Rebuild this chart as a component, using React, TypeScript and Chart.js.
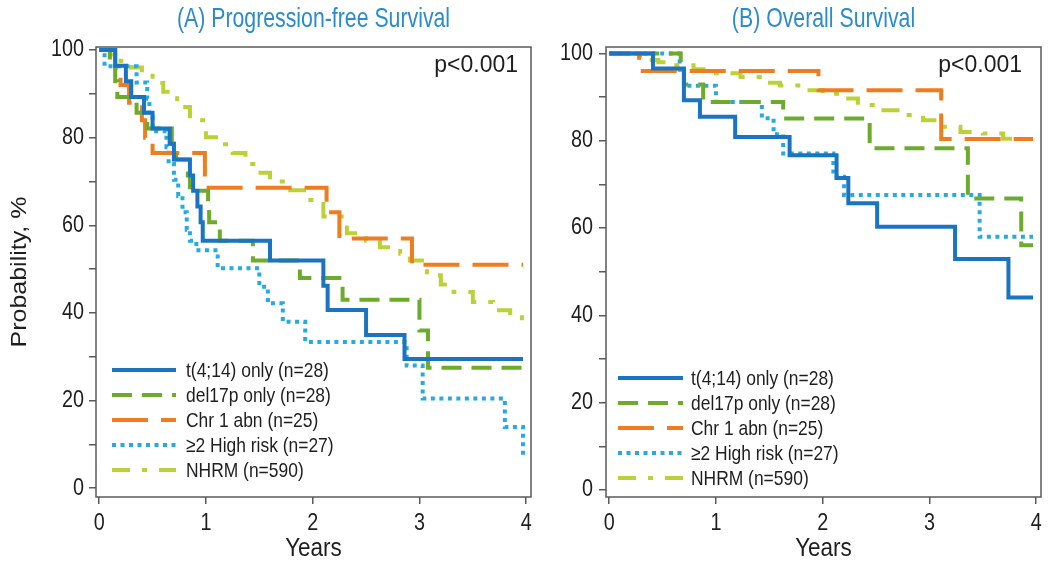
import React, { useEffect, useRef } from 'react';
import { Chart, registerables } from 'chart.js';

Chart.register(...registerables);

type Pt = [number, number];

const X_TICKS = [0, 1, 2, 3, 4];
const Y_TICKS = [0, 10, 20, 30, 40, 50, 60, 70, 80, 90, 100];
const Y_LABELED = [0, 20, 40, 60, 80, 100];
const LABELS = ['t(4;14) only (n=28)', 'del17p only (n=28)', 'Chr 1 abn (n=25)', '≥2 High risk (n=27)', 'NHRM (n=590)'];
const COLORS = ['#1a74c2', '#6dab2c', '#ef7d1f', '#25aae1', '#bcd135'];
const DASHES: number[][] = [[], [20, 10], [36, 13], [4, 4.5], [18, 12, 5, 12]];

// (A) Progression-free survival: [years, %]
const PFS_T414: Pt[] = [[0, 100], [0.15, 96.4], [0.25, 92.9], [0.3, 89.3], [0.42, 85.7], [0.5, 82.1], [0.66, 78.6], [0.7, 75], [0.85, 71.4], [0.88, 67.9], [0.92, 64.3], [0.95, 60.7], [0.97, 56.5], [1.6, 52], [2.1, 46.2], [2.14, 40.7], [2.5, 35], [2.86, 29.5], [3.97, 29.5]];
const PFS_DEL17P: Pt[] = [[0, 100], [0.1, 96.4], [0.15, 92.9], [0.17, 89.3], [0.35, 85.7], [0.45, 82.1], [0.68, 78.6], [0.72, 75], [0.83, 71.4], [0.85, 67.9], [1.02, 64.3], [1.03, 60.7], [1.13, 56.5], [1.44, 52], [1.88, 48], [2.28, 43], [3.0, 36], [3.08, 27.5], [3.97, 27.5]];
const PFS_CHR1: Pt[] = [[0, 100], [0.15, 96], [0.2, 92], [0.28, 88], [0.4, 84], [0.43, 80], [0.5, 76.5], [0.99, 68.6], [2.13, 63], [2.25, 57], [2.93, 51], [3.97, 51]];
const PFS_HR2: Pt[] = [[0, 100], [0.05, 96.3], [0.35, 92.6], [0.45, 88.9], [0.47, 85.2], [0.5, 81.5], [0.63, 77.8], [0.65, 74], [0.7, 70.4], [0.74, 66.7], [0.78, 63], [0.82, 59], [0.85, 56.5], [0.91, 54.3], [1.11, 50.2], [1.5, 46], [1.58, 42.2], [1.72, 38], [1.93, 33.4], [2.88, 28], [3.03, 20.5], [3.8, 14], [3.97, 6.8]];
const PFS_NHRM: Pt[] = [[0, 100], [0.1, 99], [0.2, 97.5], [0.3, 96], [0.4, 94.7], [0.5, 92.5], [0.6, 90.5], [0.73, 87], [0.85, 84], [1.0, 80.1], [1.12, 78.5], [1.25, 76.5], [1.37, 74], [1.48, 72], [1.6, 70], [1.79, 68], [1.94, 65.8], [2.1, 62], [2.32, 58.2], [2.5, 56.5], [2.63, 55], [2.82, 53.5], [2.91, 52], [3.07, 48.6], [3.2, 46.5], [3.32, 44.8], [3.5, 42.5], [3.69, 40.6], [3.85, 39.5], [3.96, 38]];

// (B) Overall survival: [years, %]
const OS_T414: Pt[] = [[0, 100], [0.41, 96.6], [0.7, 89.3], [0.85, 85.5], [1.18, 80.9], [1.69, 76.7], [2.13, 71.5], [2.24, 65.7], [2.51, 60.3], [3.24, 52.9], [3.74, 44.1], [3.97, 44.1]];
const OS_DEL17P: Pt[] = [[0, 100], [0.67, 96.4], [0.7, 92.9], [0.88, 88.9], [1.63, 85.1], [2.44, 78.3], [3.36, 66.8], [3.86, 56.1], [3.97, 56.1]];
const OS_CHR1: Pt[] = [[0, 100], [0.28, 96], [1.96, 91.6], [3.11, 80.4], [3.97, 80.4]];
const OS_HR2: Pt[] = [[0, 100], [0.66, 96.3], [0.7, 92.6], [1.0, 88.9], [1.43, 85.2], [1.54, 81.5], [1.63, 77.1], [2.1, 71.8], [2.2, 67.6], [3.47, 58], [3.97, 58]];
const OS_NHRM: Pt[] = [[0, 100], [0.2, 99.5], [0.35, 98.5], [0.46, 98], [0.6, 97.3], [0.79, 96.4], [1.0, 95.5], [1.23, 94.6], [1.41, 93.3], [1.6, 92.7], [1.82, 91.6], [2.0, 90.8], [2.19, 89.7], [2.33, 88.2], [2.55, 87], [2.75, 85.9], [2.94, 84.7], [3.1, 83.2], [3.29, 82], [3.5, 81.7], [3.69, 80.5], [3.78, 80.2]];

const TITLE_COLOR = '#2b8bcb';
const TEXT_COLOR = '#1e1e1e';
const AXIS_COLOR = '#5a5a5a';
const FONT = '"Liberation Sans", Arial, sans-serif';

interface PanelProps {
  left: number;
  width: number;
  yWidth: number;
  rightPad: number;
  yMin: number;
  yMax: number;
  title: string;
  series: Pt[][];
  yTitle: boolean;
  yLabelRight: number;
  legendLine: [number, number];
  legendTextX: number;
  legendY0: number;
  pX: number;
}

function txt(ctx: CanvasRenderingContext2D, s: string, x: number, y: number, size: number, sx: number, align: CanvasTextAlign, color: string) {
  ctx.save();
  ctx.translate(x, y);
  ctx.scale(sx, 1);
  ctx.font = `${size}px ${FONT}`;
  ctx.textAlign = align;
  ctx.textBaseline = 'middle';
  ctx.fillStyle = color;
  ctx.fillText(s, 0, 0);
  ctx.restore();
}

function Panel(p: PanelProps) {
  const ref = useRef<HTMLCanvasElement | null>(null);
  useEffect(() => {
    if (!ref.current) return;
    const overlay = {
      id: 'overlay',
      afterDraw(chart: any) {
        const { ctx, chartArea: ca, scales } = chart;
        ctx.save();
        // frame
        ctx.strokeStyle = AXIS_COLOR;
        ctx.lineWidth = 1.5;
        ctx.setLineDash([]);
        ctx.strokeRect(ca.left, ca.top, ca.right - ca.left, ca.bottom - ca.top);
        // title
        txt(ctx, p.title, (ca.left + ca.right) / 2, 19, 28, 0.76, 'center', TITLE_COLOR);
        // tick labels
        X_TICKS.forEach((v) => txt(ctx, String(v), scales.x.getPixelForValue(v), 524, 23, 0.86, 'center', TEXT_COLOR));
        Y_LABELED.forEach((v) => txt(ctx, String(v), p.yLabelRight, scales.y.getPixelForValue(v), 23, 0.86, 'right', TEXT_COLOR));
        // axis titles
        txt(ctx, 'Years', (ca.left + ca.right) / 2, 549, 25, 0.9, 'center', TEXT_COLOR);
        if (p.yTitle) {
          ctx.save();
          ctx.translate(20, (ca.top + ca.bottom) / 2);
          ctx.scale(0.85, 1);
          ctx.rotate(-Math.PI / 2);
          ctx.font = `25px ${FONT}`;
          ctx.textAlign = 'center';
          ctx.textBaseline = 'middle';
          ctx.fillStyle = TEXT_COLOR;
          ctx.fillText('Probability, %', 0, 0);
          ctx.restore();
        }
        // p value
        txt(ctx, 'p<0.001', p.pX, 66, 23, 1, 'right', TEXT_COLOR);
        // legend
        LABELS.forEach((lab, i) => {
          const y = p.legendY0 + i * 25;
          ctx.strokeStyle = COLORS[i];
          ctx.lineWidth = 4;
          ctx.lineCap = 'butt';
          ctx.setLineDash(DASHES[i]);
          ctx.beginPath();
          ctx.moveTo(p.legendLine[0], y);
          ctx.lineTo(p.legendLine[1], y);
          ctx.stroke();
          ctx.setLineDash([]);
          txt(ctx, lab, p.legendTextX, y + 1, 21, 0.83, 'left', TEXT_COLOR);
        });
        ctx.restore();
      },
    };
    const chart = new Chart(ref.current, {
      type: 'line',
      data: {
        datasets: p.series.map((s, i) => ({
          label: LABELS[i],
          data: s.map(([x, y]) => ({ x, y })),
          borderColor: COLORS[i],
          borderWidth: 4,
          borderDash: DASHES[i],
          borderCapStyle: 'butt',
          borderJoinStyle: 'miter',
          stepped: 'before',
          pointRadius: 0,
          fill: false,
        })),
      },
      options: {
        responsive: false,
        animation: false,
        layout: { padding: { left: 0, right: p.rightPad, top: 47, bottom: 0 } },
        plugins: { legend: { display: false }, tooltip: { enabled: false }, title: { display: false } },
        scales: {
          x: {
            type: 'linear',
            min: -0.03,
            max: 4.045,
            afterBuildTicks: (s: any) => { s.ticks = X_TICKS.map((v) => ({ value: v })); },
            afterFit: (s: any) => { s.height = 70; },
            grid: { drawOnChartArea: false, drawTicks: true, tickLength: 7, color: AXIS_COLOR, lineWidth: 1.5 },
            border: { display: false },
            ticks: { display: false },
            title: { display: false },
          },
          y: {
            type: 'linear',
            min: p.yMin,
            max: p.yMax,
            afterBuildTicks: (s: any) => { s.ticks = Y_TICKS.map((v) => ({ value: v })); },
            afterFit: (s: any) => { s.width = p.yWidth; },
            grid: { drawOnChartArea: false, drawTicks: true, tickLength: 7, color: AXIS_COLOR, lineWidth: 1.5 },
            border: { display: false },
            ticks: { display: false },
            title: { display: false },
          },
        },
      },
      plugins: [overlay],
    } as any);
    return () => chart.destroy();
  }, []);
  return (
    <canvas
      ref={ref}
      width={p.width}
      height={567}
      style={{ position: 'absolute', left: p.left, top: 0, width: p.width, height: 567 }}
    />
  );
}

export default function App() {
  return (
    <div style={{ position: 'absolute', left: 0, top: 0, width: 1050, height: 567, background: '#ffffff', overflow: 'hidden' }}>
      <Panel
        left={0}
        width={545}
        yWidth={96}
        rightPad={14}
        yMin={-2}
        yMax={100.7}
        title="(A) Progression-free Survival"
        series={[PFS_T414, PFS_DEL17P, PFS_CHR1, PFS_HR2, PFS_NHRM]}
        yTitle={true}
        yLabelRight={84}
        legendLine={[112, 176]}
        legendTextX={186}
        legendY0={370}
        pX={518}
      />
      <Panel
        left={545}
        width={505}
        yWidth={61}
        rightPad={9}
        yMin={-1.6}
        yMax={101.5}
        title="(B) Overall Survival"
        series={[OS_T414, OS_DEL17P, OS_CHR1, OS_HR2, OS_NHRM]}
        yTitle={false}
        yLabelRight={48}
        legendLine={[73, 138]}
        legendTextX={146}
        legendY0={378}
        pX={477}
      />
    </div>
  );
}
